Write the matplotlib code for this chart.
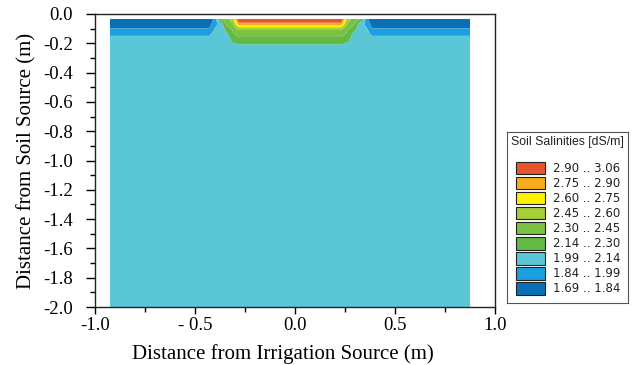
import matplotlib
matplotlib.use("Agg")
import matplotlib.pyplot as plt
from matplotlib.patches import Rectangle
from matplotlib.ticker import MultipleLocator
import numpy as np

# ---- data ----
levels = [1.69, 1.84, 1.99, 2.14, 2.30, 2.45, 2.60, 2.75, 2.90, 3.06]
level_colors = ['#0B6FB8', '#1C9FE0', '#5BC6D6', '#62B946', '#7CC242',
                '#A6CE39', '#FFF000', '#F8AD1E', '#E9552B']
legend_labels = ['2.90 .. 3.06', '2.75 .. 2.90', '2.60 .. 2.75', '2.45 .. 2.60',
                 '2.30 .. 2.45', '2.14 .. 2.30', '1.99 .. 2.14', '1.84 .. 1.99',
                 '1.69 .. 1.84']

depth = [-0.034, -0.05, -0.065, -0.08, -0.095, -0.11, -0.135, -0.16, -0.185, -0.21, -0.235, -2.0]
blue_profile = [1.72, 1.74, 1.77, 1.80, 1.83, 1.88, 1.95, 2.02, 2.06, 2.06, 2.06, 2.06]
edge_profile = [1.90, 1.91, 1.93, 1.96, 1.99, 2.02, 2.05, 2.06, 2.06, 2.06, 2.06, 2.06]
shoulder1 = [2.35, 2.25, 2.12, 2.08, 2.06, 2.06, 2.06, 2.06, 2.06, 2.06, 2.06, 2.06]
shoulder2 = [2.40, 2.38, 2.35, 2.30, 2.25, 2.20, 2.12, 2.07, 2.06, 2.06, 2.06, 2.06]
shoulder3 = [2.55, 2.50, 2.45, 2.40, 2.36, 2.32, 2.28, 2.24, 2.17, 2.10, 2.06, 2.06]
core_profile = [3.03, 2.97, 2.86, 2.72, 2.55, 2.44, 2.37, 2.29, 2.22, 2.13, 2.07, 2.06]

x_nodes = [-0.925, -0.43, -0.40, -0.365, -0.34, -0.31, -0.28, 0.0, 0.23, 0.26,
           0.29, 0.32, 0.36, 0.385, 0.875]
column_profiles = [blue_profile, blue_profile, edge_profile, shoulder1, shoulder2,
                   shoulder3, core_profile, core_profile, core_profile, shoulder3,
                   shoulder2, shoulder1, edge_profile, blue_profile, blue_profile]

x_ticks = [-1.0, -0.5, 0.0, 0.5, 1.0]
x_ticklabels = ['-1.0', '- 0.5', '0.0', '0.5', '1.0']
y_ticks = [0.0, -0.2, -0.4, -0.6, -0.8, -1.0, -1.2, -1.4, -1.6, -1.8, -2.0]
y_ticklabels = ['0.0', '-0.2', '-0.4', '-0.6', '-0.8', '-1.0', '-1.2', '-1.4',
                '-1.6', '-1.8', '-2.0']

# ---- figure ----
W, H = 634, 365
fig = plt.figure(figsize=(W / 100, H / 100), dpi=100)
ax = fig.add_axes([95 / W, 1 - 307 / H, 400 / W, 293 / H])

Z = np.array(column_profiles).T
ax.contourf(x_nodes, depth, Z, levels=levels, colors=level_colors, antialiased=True)

ax.set_xlim(-1.0, 1.0)
ax.set_ylim(-2.0, 0.0)

serif = ['Liberation Serif', 'DejaVu Serif']
ax.set_xticks(x_ticks)
ax.set_xticklabels(x_ticklabels, family=serif, fontsize=13.5)
ax.set_yticks(y_ticks)
ax.set_yticklabels(y_ticklabels, family=serif, fontsize=13.5)
ax.xaxis.set_minor_locator(MultipleLocator(0.25))
ax.yaxis.set_minor_locator(MultipleLocator(0.1))
ax.tick_params(axis='y', which='major', direction='out', length=6.5, width=1, pad=9.5)
ax.tick_params(axis='y', which='minor', direction='out', length=3.5, width=1)
ax.tick_params(axis='x', which='major', direction='out', length=5, width=1, pad=2)
ax.tick_params(axis='x', which='minor', direction='out', length=3.5, width=1)
for s in ax.spines.values():
    s.set_linewidth(1.0)
    s.set_color('#222222')

ax.set_xlabel('Distance from Irrigation Source (m)', family=serif, fontsize=15)
ax.xaxis.set_label_coords(0.47, -0.125)
ax.set_ylabel('Distance from Soil Source (m)', family=serif, fontsize=15, labelpad=5)

# ---- legend box ----
lax = fig.add_axes([507 / W, 1 - 303 / H, 121 / W, 171 / H])
lax.set_xlim(0, 121)
lax.set_ylim(171, 0)
lax.set_xticks([])
lax.set_yticks([])
for s in lax.spines.values():
    s.set_linewidth(0.8)
    s.set_color('#555555')
lax.text(4, 10, 'Soil Salinities [dS/m]', fontsize=8.8,
         family=['Liberation Sans', 'DejaVu Sans'], va='center', ha='left', color='#222222')
legend_colors = level_colors[::-1]
for i, (lab, col) in enumerate(zip(legend_labels, legend_colors)):
    top = 29.5 + i * 15.1
    lax.add_patch(Rectangle((9, top), 29, 12.5, facecolor=col, edgecolor='#222222', linewidth=0.8))
    lax.text(46, top + 6.5, lab, fontsize=8.5, family=['DejaVu Sans'],
             va='center', ha='left', color='#222222')

fig.savefig('out.png', dpi=100)
